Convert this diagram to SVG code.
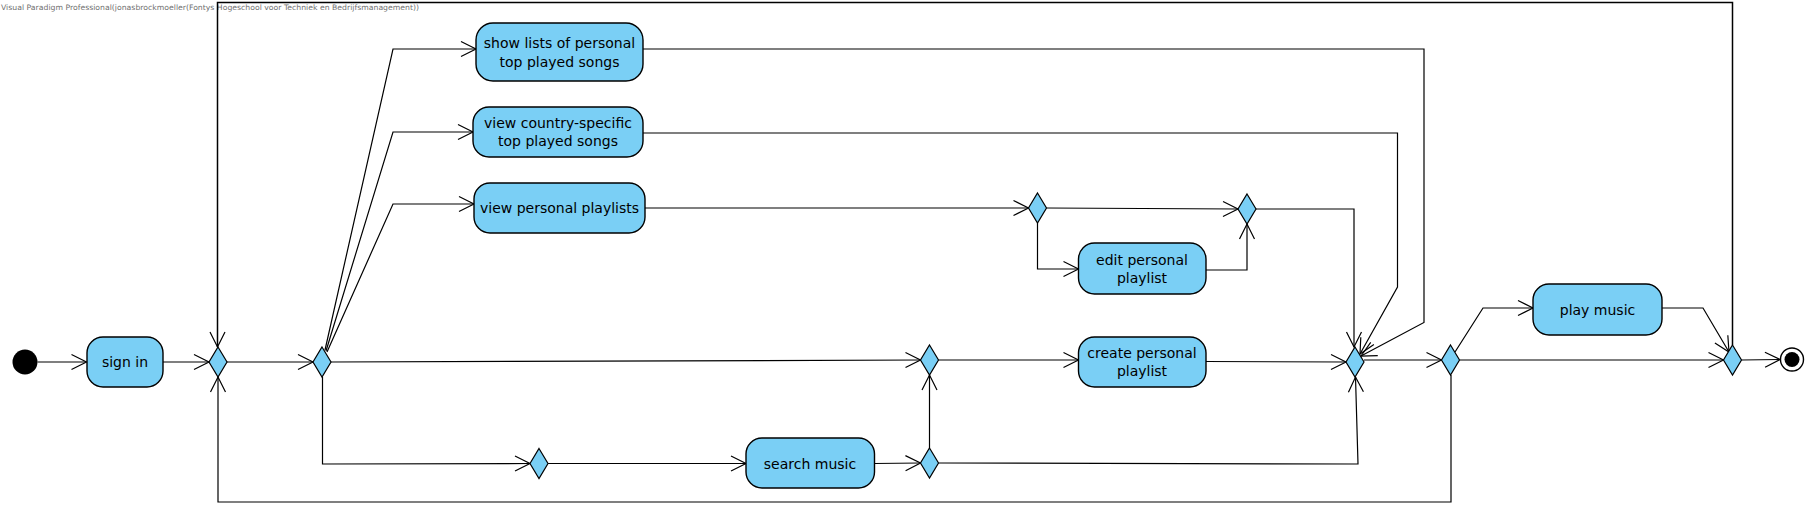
<svg xmlns="http://www.w3.org/2000/svg" width="1811" height="508" viewBox="0 0 1811 508">
<style>
.act{fill:#7ACFF5;stroke:#000;stroke-width:1.4}
.dec{fill:#7ACFF5;stroke:#000;stroke-width:1.2}
.lbl{font-family:"DejaVu Sans",sans-serif;font-size:14px;fill:#000;text-anchor:middle}
.wm{font-family:"DejaVu Sans",sans-serif;font-size:7.5px;fill:#707070}
#connectors path{fill:none;stroke:#000;stroke-width:1.2;marker-end:url(#arr)}
</style>
<defs>
<marker id="arr" markerUnits="userSpaceOnUse" markerWidth="18" markerHeight="18" refX="15" refY="7.5" orient="auto" overflow="visible">
<path d="M0,0 L15,7.5 L0,15" fill="none" stroke="#000" stroke-width="1.2"/>
</marker>
</defs>
<rect width="1811" height="508" fill="#fff"/>
<text class="wm" x="1" y="10" textLength="418" lengthAdjust="spacingAndGlyphs">Visual Paradigm Professional(jonasbrockmoeller(Fontys Hogeschool voor Techniek en Bedrijfsmanagement))</text>

<g id="connectors">
<path d="M37.5,362 L86.5,362"/>
<path d="M163,362 L209,362"/>
<path d="M227,362 L313,362"/>
<path d="M325,350 L393,49 L476,49"/>
<path d="M326,351 L393,132 L473,132"/>
<path d="M327,352 L393,204 L474,204"/>
<path d="M331,362 L920.5,360"/>
<path d="M322.5,377 L322.5,464 L530,463.5"/>
<path d="M548,463.5 L746,463.5"/>
<path d="M874.5,463.5 L920.5,463"/>
<path d="M929.5,448 L929.5,375"/>
<path d="M938.5,360 L1078.5,360"/>
<path d="M645,208 L1028.5,208"/>
<path d="M1046.5,208 L1238,209"/>
<path d="M1037.5,223 L1037.5,269 L1078.5,269"/>
<path d="M1206,270 L1247,270 L1247,224"/>
<path d="M1256,209 L1354,209 L1354,347"/>
<path d="M643,133 L1397.5,133 L1397.5,287 L1360,354"/>
<path d="M643,49 L1424,49 L1424,322.5 L1361,356"/>
<path d="M1206,361.5 L1346,362"/>
<path d="M938.5,463 L1358,464 L1355.5,377"/>
<path d="M1364,360 L1441.5,360"/>
<path d="M1455,352 L1483,308 L1533,308"/>
<path d="M1459.5,360 L1723.5,360"/>
<path d="M1662,308 L1703,308 L1729,352"/>
<path d="M1741.5,360 L1780,359.5"/>
<path d="M1732.5,345 L1732.5,2.5 L217.5,2.5 L217.5,347" style="stroke-width:1.5"/>
<path d="M1451,375 L1451,502 L218,502 L218,377"/>
</g>

<g id="initial"><circle cx="25" cy="362" r="12.5" fill="#000"/></g>
<g id="final"><circle cx="1792" cy="359.5" r="11.5" fill="#fff" stroke="#000" stroke-width="1.4"/><circle cx="1792" cy="359.5" r="7.5" fill="#000"/></g>

<g id="sign-in"><rect class="act" x="87" y="337" width="76" height="50" rx="16"/><text class="lbl" x="125" y="367">sign in</text></g>
<g id="show-lists"><rect class="act" x="476" y="23" width="167" height="58" rx="17"/><text class="lbl" x="559.5" y="48">show lists of personal</text><text class="lbl" x="559.5" y="67">top played songs</text></g>
<g id="view-country"><rect class="act" x="473" y="107" width="170" height="50" rx="16"/><text class="lbl" x="558" y="128">view country-specific</text><text class="lbl" x="558" y="146">top played songs</text></g>
<g id="view-playlists"><rect class="act" x="474" y="183" width="171" height="50" rx="16"/><text class="lbl" x="559.5" y="213">view personal playlists</text></g>
<g id="edit-playlist"><rect class="act" x="1078.5" y="243" width="127.5" height="51" rx="16"/><text class="lbl" x="1142" y="265">edit personal</text><text class="lbl" x="1142" y="283">playlist</text></g>
<g id="create-playlist"><rect class="act" x="1078.5" y="337" width="127.5" height="50" rx="16"/><text class="lbl" x="1142" y="358">create personal</text><text class="lbl" x="1142" y="376">playlist</text></g>
<g id="search-music"><rect class="act" x="746" y="438" width="128.5" height="50" rx="16"/><text class="lbl" x="810" y="468.5">search music</text></g>
<g id="play-music"><rect class="act" x="1533" y="284" width="129" height="51" rx="16"/><text class="lbl" x="1597.5" y="314.5">play music</text></g>

<g id="d1"><path class="dec" d="M218,347 L227,362 L218,377 L209,362 Z"/></g>
<g id="d2"><path class="dec" d="M322,347 L331,362 L322,377 L313,362 Z"/></g>
<g id="d3"><path class="dec" d="M1037.5,193 L1046.5,208 L1037.5,223 L1028.5,208 Z"/></g>
<g id="d4"><path class="dec" d="M1247,194 L1256,209 L1247,224 L1238,209 Z"/></g>
<g id="d5"><path class="dec" d="M929.5,345 L938.5,360 L929.5,375 L920.5,360 Z"/></g>
<g id="d6"><path class="dec" d="M929.5,448 L938.5,463 L929.5,478 L920.5,463 Z"/></g>
<g id="d7"><path class="dec" d="M1355,347 L1364,362 L1355,377 L1346,362 Z"/></g>
<g id="d8"><path class="dec" d="M539,448.5 L548,463.5 L539,478.5 L530,463.5 Z"/></g>
<g id="d9"><path class="dec" d="M1450.5,345 L1459.5,360 L1450.5,375 L1441.5,360 Z"/></g>
<g id="d10"><path class="dec" d="M1732.5,345 L1741.5,360 L1732.5,375 L1723.5,360 Z"/></g>
</svg>
